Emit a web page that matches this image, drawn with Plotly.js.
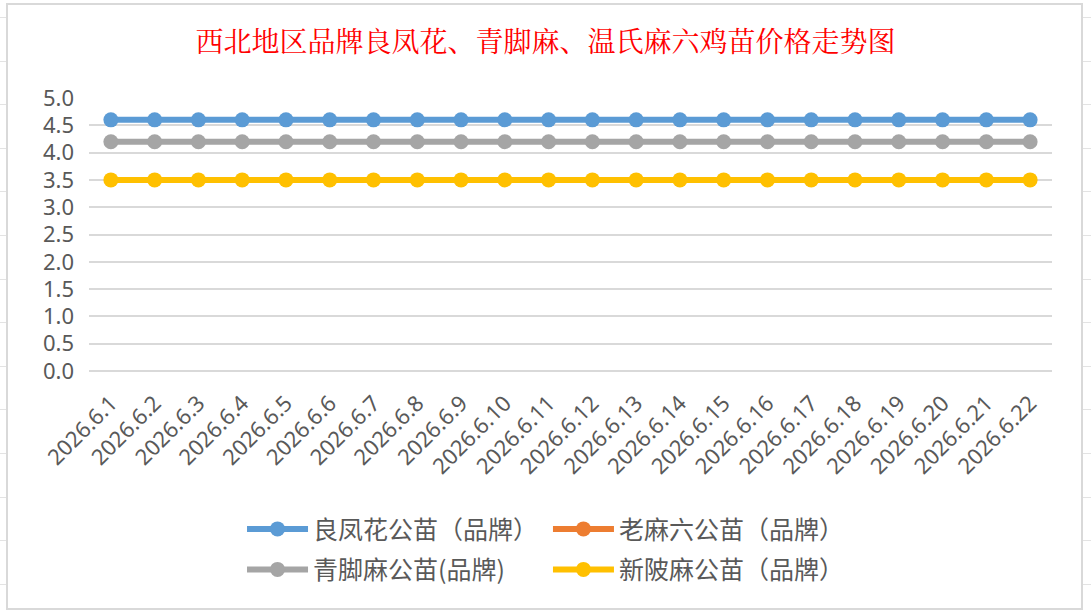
<!DOCTYPE html>
<html>
<head>
<meta charset="utf-8">
<script src="https://cdn.plot.ly/plotly-3.0.1.min.js"></script>
<style>
  html, body { margin: 0; padding: 0; width: 1091px; height: 616px; overflow: hidden; background: #ffffff; }
  #sheet { position: absolute; left: 0; top: 0; width: 1091px; height: 616px;
    background-image: repeating-linear-gradient(to bottom, transparent 0px, transparent 17px, #e3e3e3 17px, #e3e3e3 18px, transparent 18px, transparent 43.6px); }
  #frame { position: absolute; left: 6px; top: 3px; width: 1077px; height: 607px; box-sizing: border-box;
    border: 2px solid #d9d9d9; background: #ffffff; }
  #chart { position: absolute; left: 0; top: 0; width: 1091px; height: 616px; }
</style>
</head>
<body>
<div id="sheet"></div>
<div id="frame"></div>
<div id="chart"></div>
<script>
const categories = ['2026.6.1','2026.6.2','2026.6.3','2026.6.4','2026.6.5','2026.6.6','2026.6.7','2026.6.8','2026.6.9','2026.6.10','2026.6.11','2026.6.12','2026.6.13','2026.6.14','2026.6.15','2026.6.16','2026.6.17','2026.6.18','2026.6.19','2026.6.20','2026.6.21','2026.6.22'];
const seriesNames = ['良凤花公苗（品牌）','老麻六公苗（品牌）','青脚麻公苗(品牌)','新陂麻公苗（品牌）'];
const lianghuaValues = [4.6,4.6,4.6,4.6,4.6,4.6,4.6,4.6,4.6,4.6,4.6,4.6,4.6,4.6,4.6,4.6,4.6,4.6,4.6,4.6,4.6,4.6];
const laomaliuValues = [null,null,null,null,null,null,null,null,null,null,null,null,null,null,null,null,null,null,null,null,null,null];
const qingjiaomaValues = [4.2,4.2,4.2,4.2,4.2,4.2,4.2,4.2,4.2,4.2,4.2,4.2,4.2,4.2,4.2,4.2,4.2,4.2,4.2,4.2,4.2,4.2];
const xinpimaValues = [3.5,3.5,3.5,3.5,3.5,3.5,3.5,3.5,3.5,3.5,3.5,3.5,3.5,3.5,3.5,3.5,3.5,3.5,3.5,3.5,3.5,3.5];
const yTickValues = [0,0.5,1,1.5,2,2.5,3,3.5,4,4.5,5];
const yTickLabels = ['0.0','0.5','1.0','1.5','2.0','2.5','3.0','3.5','4.0','4.5','5.0'];

const colors = ['#5B9BD5','#ED7D31','#A5A5A5','#FFC000'];
const seriesValues = [lianghuaValues, laomaliuValues, qingjiaomaValues, xinpimaValues];
const legendIds = ['legend','legend2','legend','legend2'];

const traces = seriesValues.map((vals, i) => ({
  type: 'scatter',
  mode: 'lines+markers',
  x: categories,
  y: vals,
  name: seriesNames[i],
  legend: legendIds[i],
  legendgroup: 'g' + i,
  line: { color: colors[i], width: 6 },
  marker: { color: colors[i], size: 15 },
  hoverinfo: 'x+y+name'
}));

const legendFont = { family: '"Noto Sans CJK SC", "Noto Sans", sans-serif', size: 25, color: '#595959' };

const layout = {
  width: 1091,
  height: 616,
  paper_bgcolor: 'rgba(0,0,0,0)',
  plot_bgcolor: 'rgba(0,0,0,0)',
  margin: { l: 89, r: 39, t: 98, b: 245, autoexpand: false },
  title: {
    text: '西北地区品牌良凤花、青脚麻、温氏麻六鸡苗价格走势图',
    font: { family: '"Noto Serif CJK SC", "Noto Sans CJK SC", serif', size: 28, color: '#FF0000' },
    x: 0.5, xref: 'container', xanchor: 'center',
    y: 0.932, yref: 'container', yanchor: 'middle'
  },
  xaxis: {
    type: 'category',
    range: [-0.5, 21.5],
    showgrid: false,
    showline: false,
    zeroline: false,
    ticks: '',
    tickangle: -45,
    ticklabelstandoff: 14,
    automargin: false,
    tickfont: { family: '"Noto Sans", "DejaVu Sans", sans-serif', size: 22, color: '#595959' }
  },
  yaxis: {
    range: [0, 5],
    tickvals: yTickValues,
    ticktext: yTickLabels,
    showgrid: true,
    gridcolor: '#D9D9D9',
    gridwidth: 1.5,
    zeroline: true,
    zerolinecolor: '#D9D9D9',
    zerolinewidth: 2,
    showline: false,
    ticks: '',
    ticklabelstandoff: 14,
    automargin: false,
    tickfont: { family: '"Noto Sans", "DejaVu Sans", sans-serif', size: 22, color: '#595959' }
  },
  legend: {
    orientation: 'v',
    xref: 'paper', yref: 'paper',
    x: 0.1589, xanchor: 'left',
    y: -0.495, yanchor: 'top',
    font: legendFont,
    itemwidth: 61,
    tracegroupgap: 5,
    bgcolor: 'rgba(0,0,0,0)'
  },
  legend2: {
    orientation: 'v',
    xref: 'paper', yref: 'paper',
    x: 0.4766, xanchor: 'left',
    y: -0.495, yanchor: 'top',
    font: legendFont,
    itemwidth: 61,
    tracegroupgap: 5,
    bgcolor: 'rgba(0,0,0,0)'
  },
  showlegend: true
};

Plotly.newPlot('chart', traces, layout, { displayModeBar: false });
</script>
</body>
</html>
